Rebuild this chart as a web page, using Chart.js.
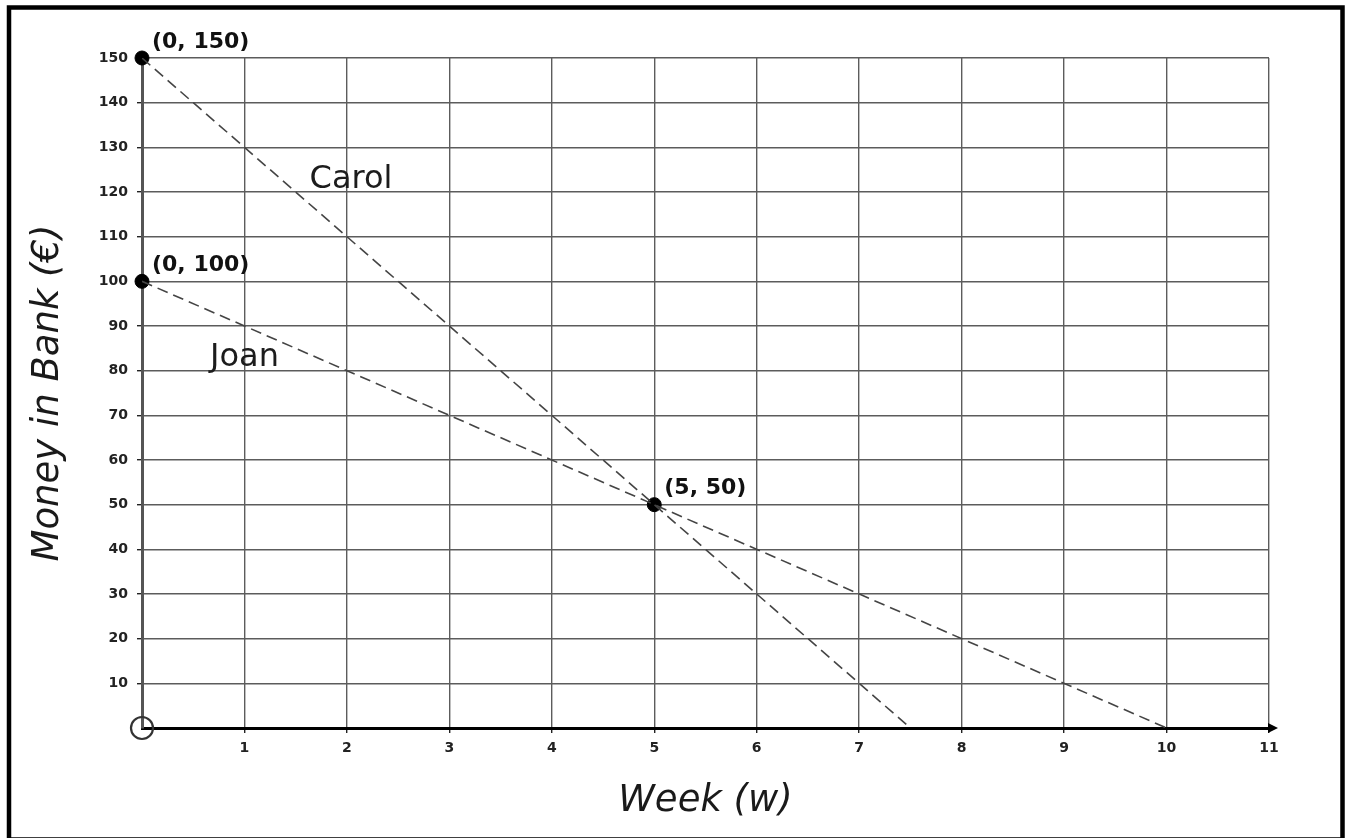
<!DOCTYPE html>
<html>
<head>
<meta charset="utf-8">
<script src="https://cdn.jsdelivr.net/npm/chart.js@4/dist/chart.umd.min.js"></script>
<style>
  html, body { margin: 0; padding: 0; background: #fff; }
  canvas { display: block; }
</style>
</head>
<body>
<canvas id="bankChart" width="1346" height="838"></canvas>
<script>
// data
const carolWeeks = [0, 7.5];
const carolMoney = [150, 0];
const joanWeeks  = [0, 10];
const joanMoney  = [100, 0];

const keyWeeks  = [0, 0, 5];
const keyMoney  = [150, 100, 50];
const keyLabels = ['(0, 150)', '(0, 100)', '(5, 50)'];

const nameLabels = ['Carol', 'Joan'];
const nameWeeks  = [2.04, 1.0];
const nameMoney  = [122.7, 82.8];

const xTicks = [0, 1, 2, 3, 4, 5, 6, 7, 8, 9, 10, 11];
const yTicks = [0, 10, 20, 30, 40, 50, 60, 70, 80, 90, 100, 110, 120, 130, 140, 150];

const toPts = (xs, ys) => xs.map((x, i) => ({ x, y: ys[i] }));

const tickFont = { family: 'DejaVu Sans', size: 14, weight: 'bold' };
const titleFont = { family: 'DejaVu Sans', size: 37, style: 'italic' };
// no tick mark at the origin, the circle sits there
const tickCol = c => (c.tick && c.tick.value === 0) ? 'rgba(0,0,0,0)' : '#222';

// frame, axis arrow, point labels and line names
const extras = {
  id: 'extras',
  afterDraw(chart) {
    const { ctx, chartArea, scales: { x, y } } = chart;
    ctx.save();

    // x-axis arrow head
    const ay = y.getPixelForValue(0);
    ctx.fillStyle = '#000';
    ctx.beginPath();
    ctx.moveTo(chartArea.right - 1, ay - 5);
    ctx.lineTo(chartArea.right + 9, ay);
    ctx.lineTo(chartArea.right - 1, ay + 5);
    ctx.closePath();
    ctx.fill();

    // coordinate labels
    ctx.font = 'bold 22px "DejaVu Sans"';
    ctx.fillStyle = '#111';
    ctx.textAlign = 'left';
    ctx.textBaseline = 'middle';
    keyLabels.forEach((t, i) => {
      ctx.fillText(t, x.getPixelForValue(keyWeeks[i]) + 10, y.getPixelForValue(keyMoney[i]) - 16);
    });

    // line names
    ctx.font = '32px "DejaVu Sans"';
    ctx.fillStyle = '#1c1c1c';
    ctx.textAlign = 'center';
    nameLabels.forEach((t, i) => {
      ctx.fillText(t, x.getPixelForValue(nameWeeks[i]), y.getPixelForValue(nameMoney[i]));
    });

    // outer frame
    ctx.strokeStyle = '#000';
    ctx.lineWidth = 4.5;
    ctx.strokeRect(9, 7.5, chart.width - 12.5, chart.height - 6);
    ctx.restore();
  }
};

const ctx = document.getElementById('bankChart').getContext('2d');
new Chart(ctx, {
  type: 'scatter',
  data: {
    datasets: [
      { label: 'Carol', data: toPts(carolWeeks, carolMoney), showLine: true, borderColor: '#444', borderWidth: 1.6, borderDash: [11, 6], pointRadius: 0 },
      { label: 'Joan',  data: toPts(joanWeeks, joanMoney),   showLine: true, borderColor: '#444', borderWidth: 1.6, borderDash: [11, 6], pointRadius: 0 },
      { label: 'Key points', data: toPts(keyWeeks, keyMoney), pointRadius: 7, backgroundColor: '#000', borderColor: '#000', clip: false },
      { label: 'Origin', data: toPts([xTicks[0]], [yTicks[0]]), pointRadius: 11, backgroundColor: 'rgba(0,0,0,0)', borderColor: '#333', borderWidth: 2.2, clip: false },
    ],
  },
  options: {
    responsive: false,
    animation: false,
    layout: { padding: { left: 12, top: 58, right: 77, bottom: 0 } },
    plugins: { legend: { display: false }, tooltip: { enabled: false } },
    scales: {
      x: {
        type: 'linear',
        min: xTicks[0], max: xTicks[xTicks.length - 1],
        afterFit: s => { s.height = 110; },
        afterBuildTicks: s => { s.ticks = xTicks.map(v => ({ value: v })); },
        ticks: { color: '#222', font: tickFont, padding: 7, maxRotation: 0, callback: v => v === 0 ? '' : v },
        grid: { color: '#5c5c5c', lineWidth: 1.4, tickLength: 5, tickColor: tickCol },
        border: { color: '#000', width: 3 },
        title: { display: true, text: 'Week (w)', color: '#1a1a1a', font: titleFont, padding: { top: 0, bottom: 14 } },
      },
      y: {
        type: 'linear',
        min: yTicks[0], max: yTicks[yTicks.length - 1],
        afterFit: s => { s.width = 130; },
        afterBuildTicks: s => { s.ticks = yTicks.map(v => ({ value: v })); },
        ticks: { color: '#222', font: tickFont, padding: 9, callback: v => v === 0 ? '' : v },
        grid: { color: '#5c5c5c', lineWidth: 1.4, tickLength: 5, tickColor: tickCol },
        border: { color: '#555', width: 3 },
        title: { display: true, text: 'Money in Bank (€)', color: '#1a1a1a', font: titleFont, padding: { top: 14, bottom: 0 } },
      },
    },
  },
  plugins: [extras],
});
</script>
</body>
</html>
